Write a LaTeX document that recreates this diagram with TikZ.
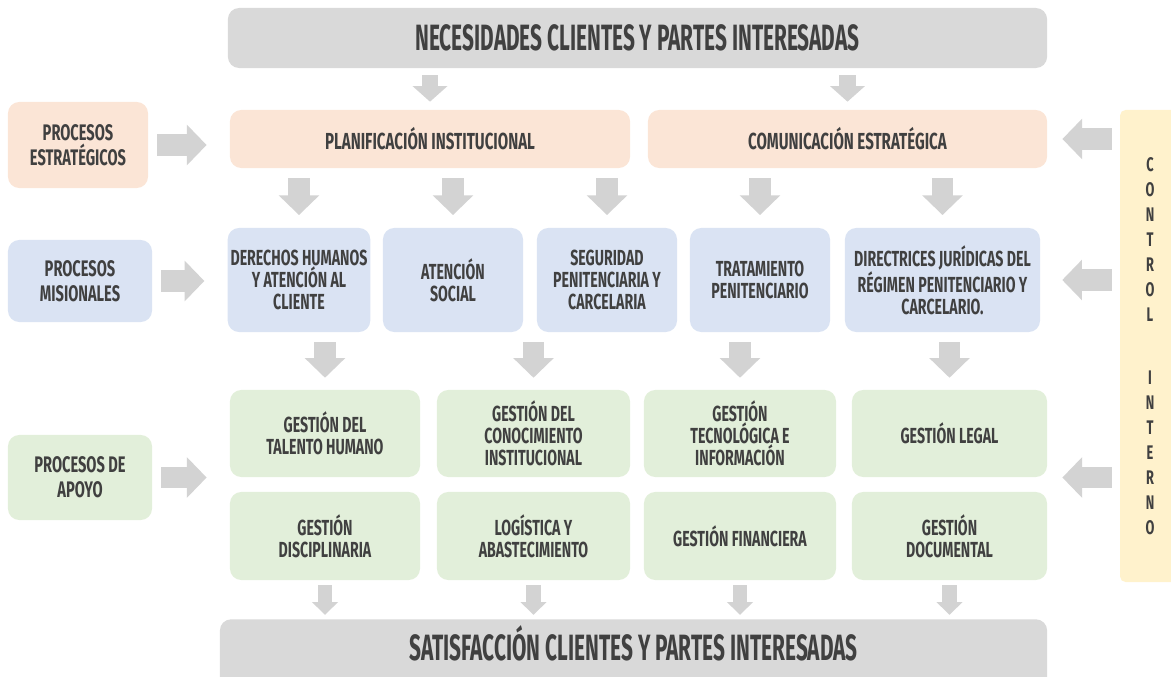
\documentclass[tikz,border=0pt]{standalone}
\usepackage{fontspec}
\setmainfont[FakeStretch=0.65]{Fira Sans}
\newfontfamily\barfont[FakeStretch=0.57]{Fira Sans}
\usetikzlibrary{arrows.meta}

\definecolor{barGray}{HTML}{D9D9D9}
\definecolor{estFill}{HTML}{FBE5D6}
\definecolor{misFill}{HTML}{DAE3F3}
\definecolor{apoFill}{HTML}{E2EFDA}
\definecolor{ctrlFill}{HTML}{FFF2CC}
\definecolor{arrowGray}{HTML}{D3D3D3}
\definecolor{textGray}{HTML}{404040}

\begin{document}
\begin{tikzpicture}[
  x = 0.025cm, y = -0.025cm,
  proc/.style = {rounded corners = 8pt, align = center, text = textGray, inner sep = 2pt,
    font = \bfseries\fontsize{15.5}{15.5}\selectfont},
  est/.style = {proc, fill = estFill},
  mis/.style = {proc, fill = misFill, minimum height = 2.6cm},
  apo/.style = {proc, fill = apoFill},
  bar/.style = {proc, fill = barGray, font = \barfont\bfseries\fontsize{26}{28}\selectfont},
  flow/.style = {draw = arrowGray, line width = 15pt, -{Triangle[width = 28pt, length = 14pt]}},
  thin flow/.style = {draw = arrowGray, line width = 10pt, -{Triangle[width = 18pt, length = 9pt]}}
]
  \useasboundingbox (0,0) rectangle (1171,677);
  \clip (0,0) rectangle (1171,677);

  % Define nodes
  \node (need) [bar, minimum width = 20.475cm, minimum height = 1.5cm] at (637.5,38)
    {NECESIDADES CLIENTES Y PARTES INTERESADAS};
  \node (sat) [bar, anchor = north, inner ysep = 0pt, minimum width = 20.675cm,
    text height = 29pt, text depth = 60pt] at (633.5,619)
    {SATISFACCIÓN CLIENTES Y PARTES INTERESADAS};

  \node (estr) [est, minimum width = 3.5cm, minimum height = 2.15cm,
    font = \bfseries\fontsize{16}{17.5}\selectfont] at (78,145)
    {PROCESOS\\ESTRATÉGICOS};
  \node (misi) [mis, minimum width = 3.6cm, minimum height = 2.05cm,
    font = \bfseries\fontsize{16}{17.5}\selectfont] at (80,281)
    {PROCESOS\\MISIONALES};
  \node (apoy) [apo, minimum width = 3.6cm, minimum height = 2.125cm,
    font = \bfseries\fontsize{16}{17.5}\selectfont] at (80,477.5)
    {PROCESOS DE\\APOYO};

  \node (plan) [est, minimum width = 10cm, minimum height = 1.45cm,
    font = \bfseries\fontsize{16.5}{17}\selectfont] at (430,139)
    {PLANIFICACIÓN INSTITUCIONAL};
  \node (com) [est, minimum width = 9.975cm, minimum height = 1.45cm,
    font = \bfseries\fontsize{16.5}{17}\selectfont] at (847.5,139)
    {COMUNICACIÓN ESTRATÉGICA};

  \node (der) [mis, minimum width = 3.55cm] at (299,280) {DERECHOS HUMANOS\\Y ATENCIÓN AL\\CLIENTE};
  \node (ate) [mis, minimum width = 3.5cm] at (453,280) {ATENCIÓN\\SOCIAL};
  \node (seg) [mis, minimum width = 3.5cm] at (607,280) {SEGURIDAD\\PENITENCIARIA Y\\CARCELARIA};
  \node (tra) [mis, minimum width = 3.5cm] at (760,280) {TRATAMIENTO\\PENITENCIARIO};
  \node (dir) [mis, minimum width = 4.875cm] at (942.5,280)
    {DIRECTRICES JURÍDICAS DEL\\RÉGIMEN PENITENCIARIO Y\\CARCELARIO.};

  \node (g1) [apo, minimum width = 4.75cm, minimum height = 2.175cm] at (325,433.5) {GESTIÓN DEL\\TALENTO HUMANO};
  \node (g2) [apo, minimum width = 4.825cm, minimum height = 2.175cm] at (533.5,433.5) {GESTIÓN DEL\\CONOCIMIENTO\\INSTITUCIONAL};
  \node (g3) [apo, minimum width = 4.8cm, minimum height = 2.175cm] at (740,433.5) {GESTIÓN\\TECNOLÓGICA E\\INFORMACIÓN};
  \node (g4) [apo, minimum width = 4.875cm, minimum height = 2.175cm] at (949.5,433.5) {GESTIÓN LEGAL};
  \node (g5) [apo, minimum width = 4.75cm, minimum height = 2.2cm] at (325,536) {GESTIÓN\\DISCIPLINARIA};
  \node (g6) [apo, minimum width = 4.825cm, minimum height = 2.2cm] at (533.5,536) {LOGÍSTICA Y\\ABASTECIMIENTO};
  \node (g7) [apo, minimum width = 4.8cm, minimum height = 2.2cm] at (740,536) {GESTIÓN FINANCIERA};
  \node (g8) [apo, minimum width = 4.875cm, minimum height = 2.2cm] at (949.5,536) {GESTIÓN\\DOCUMENTAL};

  \node (ctrl) [proc, fill = ctrlFill, rounded corners = 4pt, minimum width = 1.5cm, minimum height = 11.8cm,
    font = \bfseries\fontsize{14}{17.8}\selectfont] at (1150,346)
    {C\\O\\N\\T\\R\\O\\L\\[27pt]I\\N\\T\\E\\R\\N\\O};

  % Draw arrows
  \draw[flow, line width = 12pt, -{Triangle[width = 24pt, length = 11pt]}, shorten <= 5pt, shorten >= 5.7pt]
    (need.south -| plan.north) -- (plan.north);
  \draw[flow, line width = 12pt, -{Triangle[width = 24pt, length = 11pt]}, shorten <= 5pt, shorten >= 5.7pt]
    (need.south -| com.north) -- (com.north);
  \foreach \b in {der, ate, seg}
    \draw[flow, shorten <= 7pt, shorten >= 9pt] (plan.south -| \b.north) -- (\b.north);
  \foreach \b in {tra, dir}
    \draw[flow, shorten <= 7pt, shorten >= 9pt] (com.south -| \b.north) -- (\b.north);
  \foreach \g in {g1, g2, g3, g4}
    \draw[flow, shorten <= 7pt, shorten >= 8.5pt] (der.south -| \g.north) -- (\g.north);
  \foreach \g in {g5, g6, g7, g8}
    \draw[thin flow, shorten <= 3.5pt, shorten >= 3pt] (\g.south) -- (\g.south |- sat.north);

  \draw[flow, shorten <= 6.4pt, shorten >= 16.4pt] (estr.east) -- (estr.east -| plan.west);
  \draw[flow, shorten <= 6.4pt, shorten >= 16.4pt] (misi.east) -- (misi.east -| der.west);
  \draw[flow, shorten <= 6.4pt, shorten >= 16.4pt] (apoy.east) -- (apoy.east -| g1.west);

  \draw[flow, shorten <= 5.7pt, shorten >= 10.7pt] (ctrl.west |- com.east) -- (com.east);
  \draw[flow, shorten <= 5.7pt, shorten >= 15.6pt] (ctrl.west |- dir.east) -- (dir.east);
  \draw[flow, shorten <= 5.7pt, shorten >= 10.7pt] (ctrl.west |- apoy.east) -- (apoy.east -| g4.east);
\end{tikzpicture}
\end{document}
